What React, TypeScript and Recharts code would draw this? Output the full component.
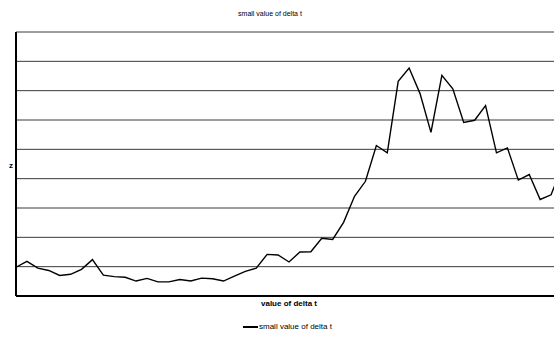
import React from 'react';
import { LineChart, Line, XAxis, YAxis, CartesianGrid } from 'recharts';

// delta t steps (x) and z
const steps = Array.from({ length: 51 }, (_, i) => String(i));
const zValues = [
  0.98, 1.18, 0.95, 0.87, 0.7, 0.74, 0.91, 1.24, 0.71, 0.66,
  0.64, 0.51, 0.6, 0.48, 0.48, 0.56, 0.51, 0.61, 0.59, 0.51,
  0.68, 0.84, 0.95, 1.42, 1.4, 1.16, 1.5, 1.51, 1.97, 1.93,
  2.51, 3.4, 3.91, 5.13, 4.88, 7.32, 7.77, 6.9, 5.58, 7.52,
  7.06, 5.92, 5.99, 6.49, 4.88, 5.05, 3.95, 4.14, 3.29, 3.45,
  4.4,
];
const yTicks = [0, 1, 2, 3, 4, 5, 6, 7, 8, 9];

const seriesName = 'small value of delta t';
const chartTitle = 'small value of delta t';
const xTitle = 'value of delta t';
const yTitle = 'z';

const data = steps.map((s, i) => ({ step: s, z: zValues[i] }));

const font = '"Liberation Sans", Arial, sans-serif';

const NoTick = () => <g />;

export default function App() {
  return (
    <div
      style={{
        position: 'absolute',
        left: 0,
        top: 0,
        width: 554,
        height: 337,
        overflow: 'hidden',
        background: '#fff',
        fontFamily: font,
        color: '#000',
      }}
    >
      <div style={{ position: 'absolute', left: 170, width: 200, top: 10, fontSize: 7, lineHeight: '7px', textAlign: 'center' }}>
        {chartTitle}
      </div>

      <div style={{ position: 'absolute', left: 0, top: 0 }}>
        <LineChart width={600} height={337} data={data} margin={{ top: 32, right: 38, left: 15, bottom: 40 }}>
          <CartesianGrid vertical={false} horizontalValues={yTicks} stroke="#3a3a3a" strokeWidth={1} />
          <XAxis
            dataKey="step"
            height={1}
            tick={NoTick}
            tickLine={false}
            axisLine={{ stroke: '#000', strokeWidth: 2 }}
            padding={{ left: 0, right: 0 }}
          />
          <YAxis
            type="number"
            domain={[0, 9]}
            ticks={yTicks}
            width={1}
            tick={NoTick}
            tickLine={false}
            axisLine={{ stroke: '#000', strokeWidth: 2 }}
          />
          <Line
            type="linear"
            dataKey="z"
            name={seriesName}
            stroke="#000"
            strokeWidth={1.4}
            dot={false}
            isAnimationActive={false}
          />
        </LineChart>
      </div>

      <div style={{ position: 'absolute', left: 9, top: 162, fontSize: 8, lineHeight: '8px', fontWeight: 'bold' }}>
        {yTitle}
      </div>

      <div style={{ position: 'absolute', left: 189, width: 200, top: 300, fontSize: 8, lineHeight: '8px', fontWeight: 'bold', textAlign: 'center' }}>
        {xTitle}
      </div>

      <div style={{ position: 'absolute', left: 243, top: 323, display: 'flex', alignItems: 'center', fontSize: 8, lineHeight: '8px' }}>
        <span style={{ display: 'inline-block', width: 15, height: 2, background: '#000', marginRight: 1 }} />
        <span>{seriesName}</span>
      </div>
    </div>
  );
}
